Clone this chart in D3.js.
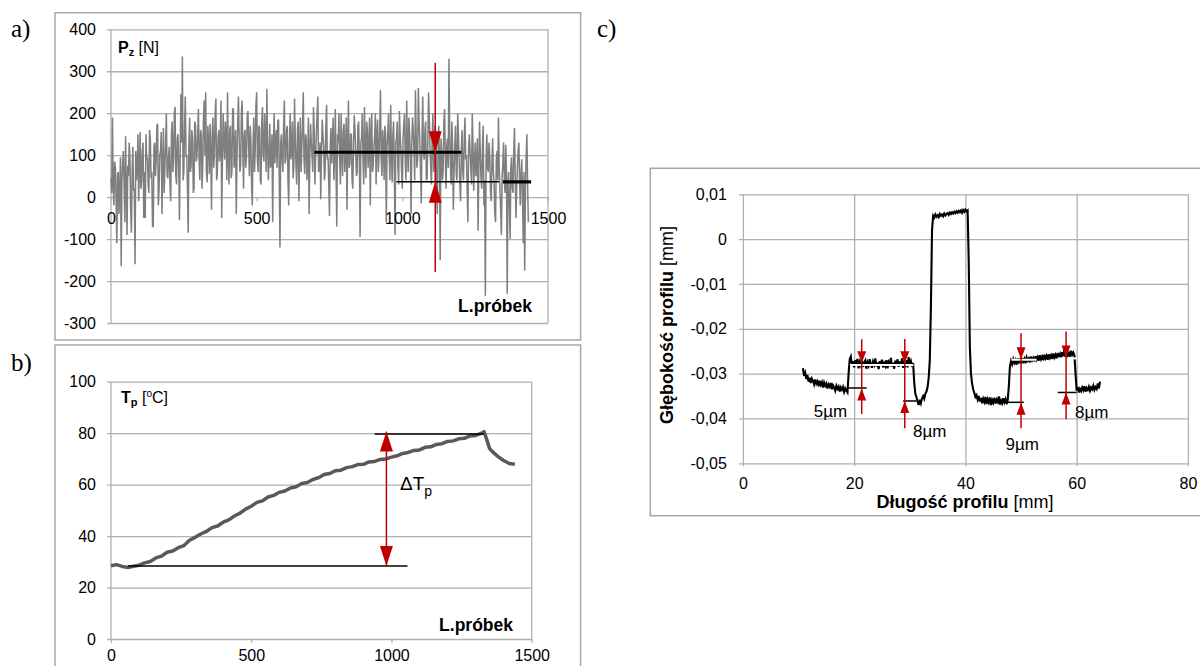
<!DOCTYPE html>
<html>
<head>
<meta charset="utf-8">
<script src="https://cdn.jsdelivr.net/npm/d3@7"></script>
<style>
body { margin: 0; background: #fff; }
svg { display: block; font-family: "Liberation Sans", Arial, sans-serif; }
</style>
</head>
<body>
<svg id="chart" width="1200" height="666"></svg>
<script>

// ---------- data: panel a (cutting force Pz, one value every 2.5 specimens) ----------
var forceStep = 2.5;
var forces = [
  45, 10, 190, 30, -20, 85, 70, 0, -110, 55, 60, -40, 15, 95, -165, 40, 85, 110, 30, -60,
  145, 20, -90, 75, 50, 130, 95, -30, -85, 60, 120, 15, 20, -160, 110, 40, 65, 150, -10, 70,
  155, 20, 40, 110, 130, -50, 60, -50, 150, 90, 95, 30, 10, 160, 140, 45, 60, -70, -70, 120,
  130, 50, 85, 170, 175, -20, 20, 100, 110, 155, -40, 70, 165, 10, 70, 130, 200, 55, 45, 100,
  120, 30, -10, 150, 180, 60, 90, 200, 215, 50, 30, 140, 150, 70, -55, 110, 245, 130, 335, 40,
  60, 170, 240, 95, 100, 20, -85, 130, 190, 60, 75, 160, 140, 10, 20, 180, 170, 85, 95, 150,
  210, 90, 40, 160, 150, 20, 80, 190, 230, 100, 250, 60, 35, 170, 130, 55, 175, 110, -30, 150,
  190, 70, 100, 200, 235, 40, 55, 140, 160, 85, 120, 230, -50, 90, 200, 130, 90, 180, 150, 40,
  250, 100, 30, 160, 170, 45, 60, 210, 210, 70, 115, 160, -40, 100, 180, 240, 140, 60, 75, 200,
  230, 110, 20, 150, 160, 70, 95, 190, 205, 120, 50, 170, 140, 30, -20, 120, 190, 60, 110, 220,
  250, 90, 60, 170, 165, 40, 30, 180, 215, 100, 85, 200, 145, 60, 258, 130, 40, 95, 175, 70,
  95, 150, -60, 120, 200, 80, 130, 160, 70, 180, 185, 50, -120, 130, 150, 90, 60, 170, 230, 80,
  90, 160, 170, 40, -20, 130, 200, 90, 110, 180, 45, 70, 235, 140, 75, 30, 160, 180, -10, 120,
  190, 60, 120, 170, 250, 90, 55, 150, 140, 40, 85, 190, -40, 100, 175, 130, 100, 60, 215, 160,
  30, 100, 150, 200, 240, 60, 70, 130, -5, 110, 185, 150, 120, 40, 60, 170, 220, 90, 95, 30,
  -45, 120, 165, 80, 135, 190, 40, 100, 210, 60, -70, 150, 130, 200, 90, 30, 200, 110, 50, 160,
  175, 60, 110, 190, -30, 120, 230, 70, 80, 150, 150, 40, 20, 130, 195, 160, 105, 50, 60, 170,
  180, 90, -95, 130, 140, 200, 90, 30, 215, 110, 45, 180, 160, 70, 125, 190, -20, 140, 200, 60,
  75, 120, 145, 200, 30, 150, 185, 60, 100, 170, 255, 90, 50, 160, 130, 40, 170, 150, -60, 120,
  150, 200, 95, 40, 220, 110, 35, 150, 180, 60, -90, 130, 140, 180, 70, 30, 205, 150, 115, 60,
  20, 140, 175, 200, 85, 40, 230, 120, 60, 190, 150, 100, -40, 130, 190, 160, 110, 40, 255, 150,
  70, 90, 260, 180, 130, 60, -15, 140, 240, 110, 90, 160, 180, 40, 45, 130, 250, 190, 120, 70,
  30, 140, 200, 60, 85, 170, 150, 20, -40, 110, 170, 90, -150, 140, 110, 40, 60, 180, 210, 100,
  20, 120, 140, 70, 330, 160, 75, 30, 180, 120, -30, 60, 120, 170, 55, 40, 200, 150, 90, 30,
  -10, 110, 160, 60, 40, 140, 190, 90, 100, 20, -60, 120, 150, 110, 70, 30, 200, 130, 15, 80,
  130, 50, 85, 140, -80, 60, 180, 110, 45, 20, 120, 170, -20, 40, -235, 90, 150, 70, 60, 130,
  100, 20, -10, 80, 140, 60, 30, -40, -60, 90, 110, 40, 190, 70, 20, -30, -90, 50, 80, 130,
  40, 10, 125, 60, -230, 30, 60, -20, -100, 70, 95, 20, 10, 110, 165, 50, -50, 20, 70, 110,
  130, 40, -20, 60, 90, 0, -110, 60, -175, 20, 95, 150, 30, -60
];
var forceTicksY = [-300, -200, -100, 0, 100, 200, 300, 400];
var forceTicksX = [0, 500, 1000, 1500];
// mean levels drawn over the force record: [from specimen, to specimen, value]
var forceLevels = [[698, 1203, 107], [980, 1332, 36.4], [1345, 1442, 36.4]];
var forceArrow = { x: 1113, top: 320, bottom: -178.6, downTip: 107, upTip: 36.4 };

// ---------- data: panel b (temperature Tp) ----------
var tempSpecimens = [0, 20, 40, 60, 80, 100, 120, 140, 160, 180, 200, 220, 240, 260, 280, 300,
  320, 340, 360, 380, 400, 420, 440, 460, 480, 500, 520, 540, 560, 580, 600, 620, 640, 660, 680,
  700, 720, 740, 760, 780, 800, 820, 840, 860, 880, 900, 920, 940, 960, 980, 1000, 1020, 1040,
  1060, 1080, 1100, 1120, 1140, 1160, 1180, 1200, 1220, 1240, 1260, 1280, 1300, 1320, 1330, 1340,
  1350, 1360, 1380, 1400, 1420, 1440];
var temps = [28.5, 28.9, 28.2, 27.8, 28.3, 28.7, 29.6, 30.1, 31.5, 32.2, 33.7, 34.2, 35.5, 36.3,
  38.4, 39.5, 40.8, 41.8, 43.3, 43.9, 45.4, 46.3, 47.8, 48.9, 50.5, 51.6, 53.1, 53.7, 55.2, 55.8,
  57.0, 57.5, 58.7, 59.2, 60.4, 60.8, 62.0, 62.7, 63.9, 64.3, 65.4, 65.6, 66.6, 67.0, 67.8, 67.9,
  68.8, 69.0, 69.8, 70.0, 70.7, 71.2, 72.1, 72.5, 73.3, 73.5, 74.5, 74.7, 75.6, 75.9, 76.8, 77.0,
  77.8, 78.0, 78.9, 79.1, 79.9, 80.6, 77.4, 74.0, 72.8, 70.9, 69.4, 68.2, 67.9];
var tempTicksY = [0, 20, 40, 60, 80, 100];
var tempTicksX = [0, 500, 1000, 1500];
var tempLevels = [[940, 1329, 79.7], [60, 1057, 28.4]];
var tempArrow = { x: 982, top: 80.6, bottom: 28.4 };

// ---------- data: panel c (profile depth, one value every 0.2 mm from 10.8 mm) ----------
var profileStart = 10.8, profileStep = 0.2;
var depths = [
  -0.0288, -0.0305, -0.0298, -0.0312, -0.0303, -0.0318, -0.0309, -0.0321, -0.0311, -0.0316,
  -0.0324, -0.0313, -0.0322, -0.0317, -0.0328, -0.0316, -0.0325, -0.0319, -0.0331, -0.0320,
  -0.0327, -0.0322, -0.0333, -0.0324, -0.0329, -0.0321, -0.0335, -0.0326, -0.0331, -0.0338,
  -0.0327, -0.0334, -0.0329, -0.0340, -0.0331, -0.0336, -0.0330, -0.0341, -0.0333, -0.0338,
  -0.0342, -0.0300, -0.0268,
  -0.0262, -0.0281, -0.0272, -0.0286, -0.0270, -0.0279, -0.0267, -0.0288, -0.0274, -0.0281,
  -0.0269, -0.0285, -0.0276, -0.0271, -0.0289, -0.0275, -0.0282, -0.0268, -0.0279, -0.0287,
  -0.0273, -0.0280, -0.0266, -0.0284, -0.0275, -0.0290, -0.0272, -0.0281, -0.0269, -0.0286,
  -0.0277, -0.0283, -0.0270, -0.0288, -0.0274, -0.0279, -0.0265, -0.0284, -0.0276, -0.0289,
  -0.0271, -0.0280, -0.0268, -0.0285, -0.0273, -0.0282, -0.0266, -0.0287, -0.0275, -0.0281,
  -0.0270, -0.0286, -0.0263, -0.0279, -0.0272, -0.0284, -0.0276,
  -0.0320, -0.0345, -0.0352, -0.0362, -0.0370, -0.0358, -0.0366, -0.0355, -0.0350, -0.0356,
  -0.0345, -0.0340, -0.0330, -0.0310, -0.0270, -0.0150, 0.0020,
  0.0052, 0.0048, 0.0055, 0.0050, 0.0053, 0.0049, 0.0056, 0.0052, 0.0055, 0.0051,
  0.0057, 0.0053, 0.0056, 0.0058, 0.0054, 0.0059, 0.0056, 0.0060, 0.0057, 0.0061,
  0.0058, 0.0062, 0.0059, 0.0063, 0.0060, 0.0064, 0.0059, 0.0065, 0.0061, 0.0066,
  0.0062, 0.0064, -0.0050, -0.0240, -0.0300,
  -0.0322, -0.0335, -0.0343, -0.0352, -0.0348, -0.0358, -0.0350, -0.0362, -0.0354, -0.0366,
  -0.0356, -0.0363, -0.0352, -0.0368, -0.0357, -0.0364, -0.0353, -0.0370, -0.0359, -0.0365,
  -0.0354, -0.0367, -0.0358, -0.0363, -0.0351, -0.0369, -0.0360, -0.0366, -0.0355, -0.0364,
  -0.0357, -0.0368, -0.0359, -0.0330, -0.0285,
  -0.0272, -0.0279, -0.0268, -0.0276, -0.0270, -0.0280, -0.0266, -0.0274, -0.0269, -0.0278,
  -0.0265, -0.0273, -0.0267, -0.0277, -0.0264, -0.0271, -0.0266, -0.0275, -0.0262, -0.0270,
  -0.0265, -0.0273, -0.0261, -0.0269, -0.0263, -0.0271, -0.0259, -0.0268, -0.0262, -0.0270,
  -0.0258, -0.0266, -0.0260, -0.0269, -0.0257, -0.0265, -0.0259, -0.0267, -0.0255, -0.0264,
  -0.0258, -0.0266, -0.0254, -0.0262, -0.0256, -0.0265, -0.0252, -0.0261, -0.0246, -0.0263,
  -0.0250, -0.0260, -0.0254, -0.0262, -0.0249, -0.0258, -0.0253, -0.0260, -0.0300,
  -0.0338, -0.0330, -0.0342, -0.0334, -0.0339, -0.0331, -0.0337, -0.0328, -0.0340, -0.0332,
  -0.0336, -0.0329, -0.0338, -0.0331, -0.0335, -0.0327, -0.0336, -0.0330, -0.0334, -0.0322,
  -0.0333, -0.0318
];
var depthTicks = [-0.05, -0.04, -0.03, -0.02, -0.01, 0, 0.01];
var depthTickLabels = ["-0,05", "-0,04", "-0,03", "-0,02", "-0,01", "0", "0,01"];
var lengthTicks = [0, 20, 40, 60, 80];
// reference levels: [from mm, to mm, depth]
var levelsWhite = [[19.25, 30.65, -0.0281], [48.3, 52.8, -0.0269], [56.6, 60.0, -0.0266]];
var levelsBlack = [[18.95, 22.25, -0.0332], [28.8, 31.2, -0.0361], [47.4, 50.5, -0.0364], [56.6, 60.0, -0.0342]];
// measuring arrows: x, line top, line bottom, tip of the down arrow, tip of the up arrow
var depthArrows = [
  [21.36, -0.0223, -0.0390, -0.0277, -0.0333],
  [29.1, -0.0223, -0.0422, -0.0277, -0.0361],
  [50.0, -0.0210, -0.0422, -0.0268, -0.0365],
  [58.1, -0.0206, -0.0402, -0.0264, -0.0342]
];
var stepLabels = ["5µm", "8µm", "9µm", "8µm"];
var stepLabelPos = [[12.73, -0.0396], [30.58, -0.0442], [47.2, -0.0470], [59.7, -0.0400]];

var RED = "#c00000", GRID = "#b0b0b0", FRAME = "#a6a6a6";
var svg = d3.select("#chart");

function frame(x, y, w, h) {
  svg.append("rect")
      .attr("x", x).attr("y", y).attr("width", w).attr("height", h)
      .attr("fill", "none").attr("stroke", FRAME).attr("stroke-width", 1.5);
}

function styleAxis(g) {
  g.select(".domain").remove();
  g.attr("font-family", null).attr("font-size", 16);
  g.selectAll("line").attr("stroke", GRID).attr("stroke-width", 1.3);
  g.selectAll("text").attr("fill", "#000");
}

// plain hyphen minus, as in the original
function plain(d) { return String(d); }

function head(g, x, tipY, baseY, w) {
  g.append("path")
      .attr("d", "M" + x + "," + tipY + "L" + (x - w / 2) + "," + baseY + "L" + (x + w / 2) + "," + baseY + "Z")
      .attr("fill", RED);
}

function panelLabel(txt, x, y) {
  svg.append("text").attr("x", x).attr("y", y)
      .attr("font-family", "Liberation Serif, Times New Roman, serif")
      .attr("font-size", 25).text(txt);
}

// ================= panel a =================
frame(55, 12.7, 525.6, 327.3);
panelLabel("a)", 11, 37);

var xa = d3.scaleLinear().domain([0, 1500]).range([111, 548]);
var ya = d3.scaleLinear().domain([-300, 400]).range([323, 29.3]);
var ga = svg.append("g");

ga.append("g")
    .attr("transform", "translate(" + (xa.range()[0] - 4) + ",0)")
    .call(d3.axisLeft(ya).tickValues(forceTicksY).tickFormat(plain)
      .tickSize(-(xa.range()[1] - xa.range()[0] + 4)).tickPadding(11))
    .call(styleAxis);

[0, 1500].forEach(function(v) {
  ga.append("line").attr("x1", xa(v)).attr("x2", xa(v)).attr("y1", ya(400)).attr("y2", ya(-300))
      .attr("stroke", GRID).attr("stroke-width", 1.3);
});

ga.append("path")
    .datum(forces)
    .attr("fill", "none")
    .attr("stroke", "#7f7f7f")
    .attr("stroke-width", 1.5)
    .attr("d", d3.line().x(function(d, i) { return xa(i * forceStep); }).y(function(d) { return ya(d); }));

ga.append("g")
    .attr("transform", "translate(0," + ya(0) + ")")
    .call(d3.axisBottom(xa).tickValues(forceTicksX).tickFormat(plain).tickSize(4).tickPadding(12))
    .call(styleAxis);

forceLevels.forEach(function(l, i) {
  ga.append("line")
      .attr("x1", xa(l[0])).attr("x2", xa(l[1])).attr("y1", ya(l[2])).attr("y2", ya(l[2]))
      .attr("stroke", "#000").attr("stroke-width", i === 1 ? 1.5 : 3.2);
});

ga.append("line")
    .attr("x1", xa(forceArrow.x)).attr("x2", xa(forceArrow.x))
    .attr("y1", ya(forceArrow.top)).attr("y2", ya(forceArrow.bottom))
    .attr("stroke", RED).attr("stroke-width", 1.5);
head(ga, xa(forceArrow.x), ya(forceArrow.downTip), ya(forceArrow.downTip) - 21, 13);
head(ga, xa(forceArrow.x), ya(forceArrow.upTip), ya(forceArrow.upTip) + 21, 13);

var pz = ga.append("text").attr("x", 118).attr("y", 53.3).attr("font-size", 16);
pz.append("tspan").attr("font-weight", "bold").text("P");
pz.append("tspan").attr("font-weight", "bold").attr("font-size", 11).attr("dy", 3).text("z");
pz.append("tspan").attr("dy", -3).text(" [N]");

ga.append("text").attr("x", 532).attr("y", 311.7).attr("text-anchor", "end")
    .attr("font-size", 17.5).attr("font-weight", "bold").text("L.próbek");

// ================= panel b =================
frame(55, 345, 525.6, 340);
panelLabel("b)", 11, 371);

var xb = d3.scaleLinear().domain([0, 1500]).range([111, 531.7]);
var yb = d3.scaleLinear().domain([0, 100]).range([639, 381.7]);
var gb = svg.append("g");

gb.append("g")
    .attr("transform", "translate(" + (xb.range()[0] - 4) + ",0)")
    .call(d3.axisLeft(yb).tickValues(tempTicksY).tickFormat(plain)
      .tickSize(-(xb.range()[1] - xb.range()[0] + 4)).tickPadding(11))
    .call(styleAxis);

[0, 1500].forEach(function(v) {
  gb.append("line").attr("x1", xb(v)).attr("x2", xb(v)).attr("y1", yb(100)).attr("y2", yb(0))
      .attr("stroke", GRID).attr("stroke-width", 1.3);
});

gb.append("g")
    .attr("transform", "translate(0," + yb(0) + ")")
    .call(d3.axisBottom(xb).tickValues(tempTicksX).tickFormat(plain).tickSize(4).tickPadding(7))
    .call(styleAxis);

gb.append("path")
    .datum(temps)
    .attr("fill", "none")
    .attr("stroke", "#595959")
    .attr("stroke-width", 3.5)
    .attr("stroke-linejoin", "round")
    .attr("d", d3.line().x(function(d, i) { return xb(tempSpecimens[i]); }).y(function(d) { return yb(d); }));

tempLevels.forEach(function(l) {
  gb.append("line")
      .attr("x1", xb(l[0])).attr("x2", xb(l[1])).attr("y1", yb(l[2])).attr("y2", yb(l[2]))
      .attr("stroke", "#000").attr("stroke-width", 1.5);
});

gb.append("line")
    .attr("x1", xb(tempArrow.x)).attr("x2", xb(tempArrow.x))
    .attr("y1", yb(tempArrow.top)).attr("y2", yb(tempArrow.bottom))
    .attr("stroke", RED).attr("stroke-width", 1.5);
head(gb, xb(tempArrow.x), yb(tempArrow.top), yb(tempArrow.top) + 20, 13);
head(gb, xb(tempArrow.x), yb(tempArrow.bottom), yb(tempArrow.bottom) - 20, 13);

var tp = gb.append("text").attr("x", 121).attr("y", 403).attr("font-size", 16);
tp.append("tspan").attr("font-weight", "bold").text("T");
tp.append("tspan").attr("font-weight", "bold").attr("font-size", 11).attr("dy", 3).text("p");
tp.append("tspan").attr("dy", -3).text(" [");
tp.append("tspan").attr("font-size", 10).attr("dy", -6).text("o");
tp.append("tspan").attr("dy", 6).text("C]");

var dt = gb.append("text").attr("x", 400).attr("y", 490).attr("font-size", 19);
dt.append("tspan").text("ΔT");
dt.append("tspan").attr("font-size", 14).attr("dy", 6).text("p");

gb.append("text").attr("x", 513).attr("y", 630.7).attr("text-anchor", "end")
    .attr("font-size", 17.5).attr("font-weight", "bold").text("L.próbek");

// ================= panel c =================
frame(650.3, 168.3, 620, 347.4);
panelLabel("c)", 597, 37);

var xc = d3.scaleLinear().domain([0, 80]).range([742.9, 1187.9]);
var yc = d3.scaleLinear().domain([-0.05, 0.01]).range([463.3, 194.3]);
var gc = svg.append("g");

gc.append("g")
    .attr("transform", "translate(" + (xc.range()[0] - 4) + ",0)")
    .call(d3.axisLeft(yc).tickValues(depthTicks)
      .tickFormat(function(d, i) { return depthTickLabels[i]; })
      .tickSize(-(xc.range()[1] - xc.range()[0] + 4)).tickPadding(12))
    .call(styleAxis);

gc.append("g")
    .attr("transform", "translate(0," + (yc.range()[1]) + ")")
    .call(d3.axisBottom(xc).tickValues(lengthTicks).tickFormat(plain)
      .tickSize(yc.range()[0] - yc.range()[1] + 3).tickPadding(11))
    .call(styleAxis);

gc.append("path")
    .datum(depths)
    .attr("fill", "none")
    .attr("stroke", "#000")
    .attr("stroke-width", 2.1)
    .attr("d", d3.line().x(function(d, i) { return xc(profileStart + i * profileStep); }).y(function(d) { return yc(d); }));

levelsWhite.forEach(function(l) {
  gc.append("line")
      .attr("x1", xc(l[0])).attr("x2", xc(l[1])).attr("y1", yc(l[2])).attr("y2", yc(l[2]))
      .attr("stroke", "#fff").attr("stroke-width", 2);
});
levelsBlack.forEach(function(l) {
  gc.append("line")
      .attr("x1", xc(l[0])).attr("x2", xc(l[1])).attr("y1", yc(l[2])).attr("y2", yc(l[2]))
      .attr("stroke", "#000").attr("stroke-width", 1.5);
});

depthArrows.forEach(function(a) {
  var x = xc(a[0]);
  gc.append("line").attr("x1", x).attr("x2", x).attr("y1", yc(a[1])).attr("y2", yc(a[2]))
      .attr("stroke", RED).attr("stroke-width", 1.5);
  head(gc, x, yc(a[3]), yc(a[3]) - 12, 9);
  head(gc, x, yc(a[4]), yc(a[4]) + 12, 9);
});

gc.selectAll(".step")
    .data(stepLabels)
    .enter().append("text")
    .attr("x", function(d, i) { return xc(stepLabelPos[i][0]); })
    .attr("y", function(d, i) { return yc(stepLabelPos[i][1]); })
    .attr("font-size", 17)
    .text(function(d) { return d; });

var xt = gc.append("text").attr("x", 965).attr("y", 508).attr("text-anchor", "middle").attr("font-size", 18);
xt.append("tspan").attr("font-weight", "bold").text("Długość profilu ");
xt.append("tspan").text("[mm]");

var yt = gc.append("text").attr("transform", "translate(673,325) rotate(-90)")
    .attr("text-anchor", "middle").attr("font-size", 18);
yt.append("tspan").attr("font-weight", "bold").text("Głębokość profilu ");
yt.append("tspan").text("[mm]");

</script>
</body>
</html>
